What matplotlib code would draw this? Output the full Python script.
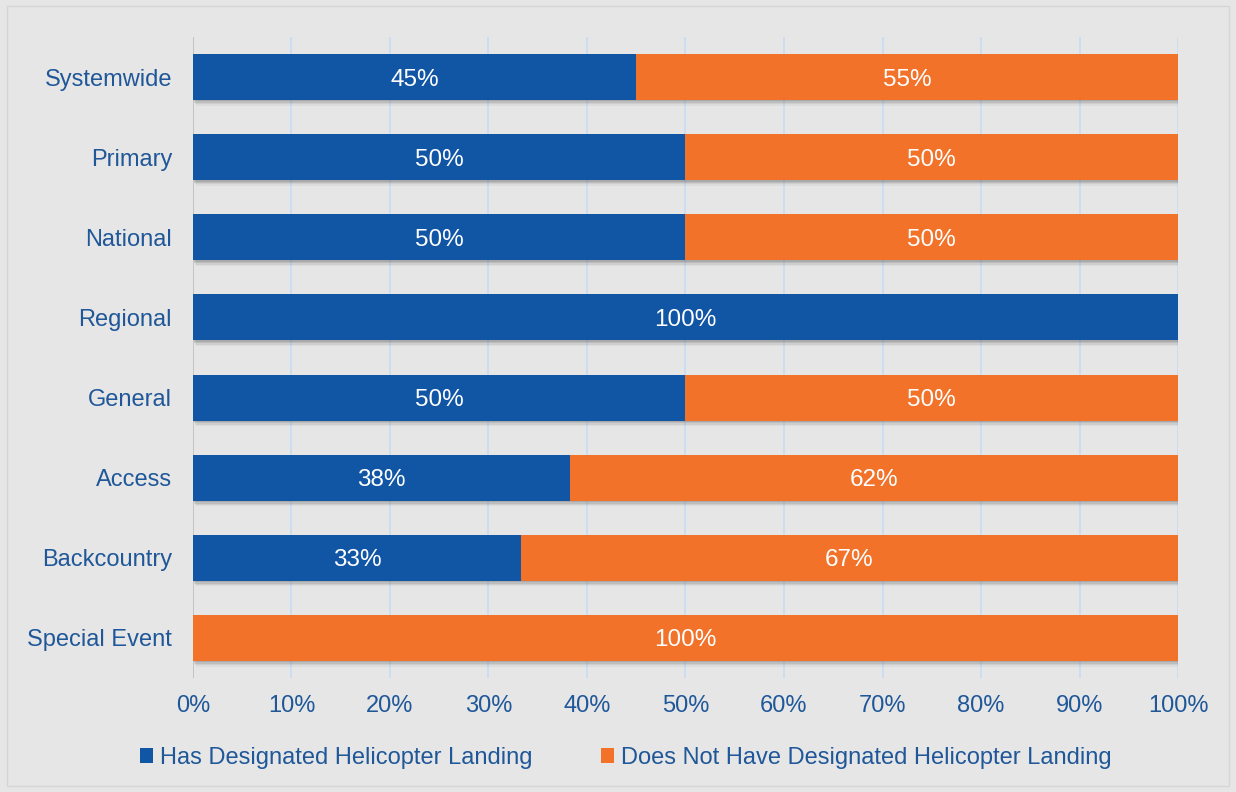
import matplotlib.pyplot as plt
import matplotlib.patches as patches
import matplotlib.patheffects as pe

plt.rcParams['font.family'] = ['Liberation Sans', 'DejaVu Sans']

# Share of facilities with / without a designated helicopter landing
categories = ['Systemwide', 'Primary', 'National', 'Regional',
              'General', 'Access', 'Backcountry', 'Special Event']
has_landing = [45, 50, 50, 100, 50, 38.3, 33.3, 0]
no_landing = [55, 50, 50, 0, 50, 61.7, 66.7, 100]
tick_values = [0, 10, 20, 30, 40, 50, 60, 70, 80, 90, 100]

blue = '#1155a5'
orange = '#f2722a'
text_blue = '#1f5799'
bg = '#e6e6e6'

fig = plt.figure(figsize=(12.36, 7.92), dpi=100, facecolor=bg)
ax = fig.add_axes([0.1561, 0.1439, 0.797, 0.8094])
ax.set_facecolor(bg)

# thin lighter frame around the whole chart
fig.patches.append(patches.Rectangle((0.006, 0.008), 0.988, 0.984, transform=fig.transFigure,
                                     fill=False, edgecolor='#d6d6d6', lw=1.0))

y = list(range(len(categories)))
# soft drop shadow built from a few faint offset copies
shadow = [pe.SimplePatchShadow(offset=(dx, dy), shadow_rgbFace='#333333', alpha=a)
          for dx, dy, a in [(0.5, -1.0, 0.14), (1.0, -2.0, 0.11), (1.5, -3.0, 0.08),
                            (2.0, -4.0, 0.05)]]
shadow.append(pe.Normal())

bars1 = ax.barh(y, has_landing, height=0.575, color=blue, zorder=3,
                label='Has Designated Helicopter Landing')
bars2 = ax.barh(y, no_landing, left=has_landing, height=0.575, color=orange, zorder=3,
                label='Does Not Have Designated Helicopter Landing')
for b in list(bars1) + list(bars2):
    if b.get_width() > 0:
        b.set_path_effects(shadow)

# value labels centered in each segment
for i in y:
    if has_landing[i] > 0:
        ax.text(has_landing[i] / 2, i, f'{round(has_landing[i])}%', color='white',
                fontsize=17.5, ha='center', va='center_baseline', zorder=4)
    if no_landing[i] > 0:
        ax.text(has_landing[i] + no_landing[i] / 2, i, f'{round(no_landing[i])}%', color='white',
                fontsize=17.5, ha='center', va='center_baseline', zorder=4)

ax.set_xlim(0, 100)
ax.set_ylim(len(categories) - 0.5, -0.5)
ax.set_yticks(y)
ax.set_yticklabels(categories)
ax.set_xticks(tick_values)
ax.set_xticklabels([f'{v}%' for v in tick_values])
ax.tick_params(axis='both', length=0, labelsize=17, labelcolor=text_blue)
ax.tick_params(axis='x', pad=12)
ax.tick_params(axis='y', pad=15)

for v in tick_values[1:]:
    ax.axvline(v, color='#c8dcf4', lw=1.2, zorder=1)
ax.axvline(0, color='#c4c4c4', lw=1.4, zorder=1)

for s in ax.spines.values():
    s.set_visible(False)

leg = fig.legend(handles=[bars1, bars2], loc='center', bbox_to_anchor=(0.506, 0.043), ncol=2,
                 frameon=False, fontsize=17, handlelength=0.55, handleheight=0.55,
                 handletextpad=0.3, columnspacing=2.9)
for t in leg.get_texts():
    t.set_color(text_blue)
for h in leg.legend_handles:
    h.set_path_effects([])

fig.savefig('out.png', dpi=100, facecolor=bg)
